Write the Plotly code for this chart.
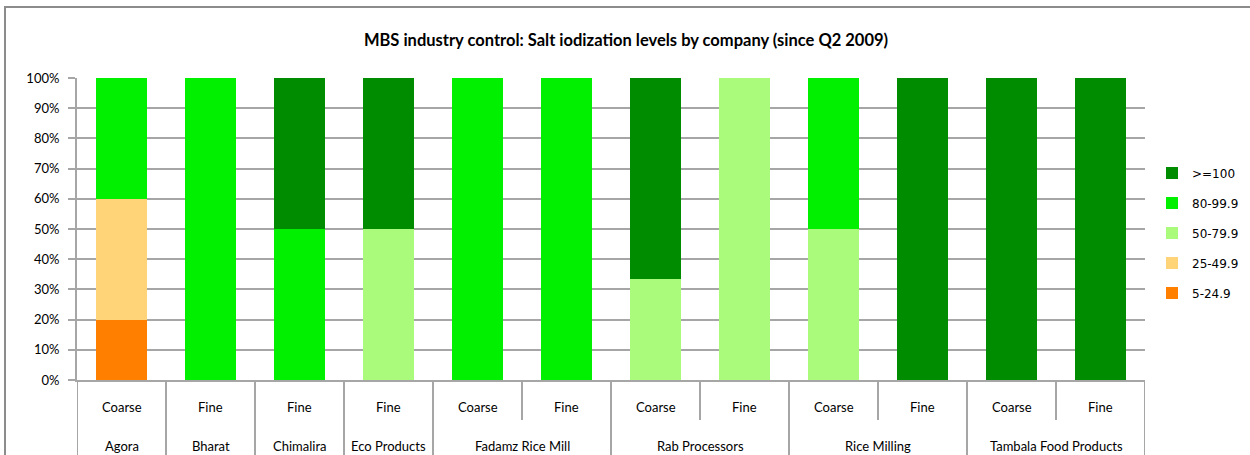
import plotly.graph_objects as go

companies = ["Agora", "Bharat", "Chimalira", "Eco Products", "Fadamz Rice Mill", "Fadamz Rice Mill",
             "Rab Processors", "Rab Processors", "Rice Milling", "Rice Milling",
             "Tambala Food Products", "Tambala Food Products"]
salt_types = ["Coarse", "Fine", "Fine", "Fine", "Coarse", "Fine",
              "Coarse", "Fine", "Coarse", "Fine", "Coarse", "Fine"]

level_5_24 = [20, 0, 0, 0, 0, 0, 0, 0, 0, 0, 0, 0]
level_25_49 = [40, 0, 0, 0, 0, 0, 0, 0, 0, 0, 0, 0]
level_50_79 = [0, 0, 0, 50, 0, 0, 33.3, 100, 50, 0, 0, 0]
level_80_99 = [40, 100, 50, 0, 100, 100, 0, 0, 50, 0, 0, 0]
level_100 = [0, 0, 50, 50, 0, 0, 66.7, 0, 0, 100, 100, 100]

series_names = ["5-24.9", "25-49.9", "50-79.9", "80-99.9", ">=100"]
series_values = [level_5_24, level_25_49, level_50_79, level_80_99, level_100]
series_colors = ["#FF7F00", "#FFD378", "#AAFA7C", "#00F000", "#008C00"]

W, H = 1250, 455
ML, MR, MT, MB = 77, 105, 78, 75
PW, PH = W - ML - MR, H - MT - MB

positions = list(range(len(companies)))

fig = go.Figure()
n_series = len(series_names)
for k, (name, vals, col) in enumerate(zip(series_names, series_values, series_colors)):
    fig.add_trace(go.Bar(x=positions, y=vals, name=name,
                         marker=dict(color=col, line=dict(width=0)),
                         legendgroup=name, legendrank=n_series - k))

grid = "#A6A6A6"
label_font = "Lato, Carlito, Calibri, sans-serif"

def py(px_y):
    """pixel y (from top of figure) -> paper y"""
    return (H - MB - px_y) / PH

fig.update_layout(
    width=W, height=H,
    margin=dict(l=ML, r=MR, t=MT, b=MB, autoexpand=False),
    barmode="stack", bargap=0.43,
    plot_bgcolor="white", paper_bgcolor="white",
    title=dict(text="<b>MBS industry control: Salt iodization levels by company (since Q2 2009)</b>",
               x=(626 - ML) / PW, xref="paper", xanchor="center",
               y=1 - 40 / H, yanchor="middle",
               font=dict(family=label_font, size=16.5, color="black")),
    legend=dict(x=(1152 - ML) / PW, xanchor="left", y=py(233), yanchor="middle",
                traceorder="grouped", tracegroupgap=11,
                font=dict(family="DejaVu Sans, Verdana, sans-serif", size=12, color="black"),
                itemwidth=30),
    showlegend=True,
)

fig.update_yaxes(range=[0, 100], dtick=10, ticksuffix="%", showgrid=True, gridcolor=grid, gridwidth=2,
                 showline=True, linecolor=grid, linewidth=2, ticks="outside", ticklen=7, tickcolor=grid,
                 tickwidth=2, zeroline=False, automargin=False, ticklabelstandoff=6,
                 tickfont=dict(family=label_font, size=13, color="black"))
fig.update_xaxes(range=[-0.5, len(companies) - 0.5], showline=True, linecolor=grid, linewidth=2,
                 showticklabels=False, ticks="", showgrid=False, zeroline=False, automargin=False)

# category labels (inner row: salt type, outer row: company)
for i, t in zip(positions, salt_types):
    fig.add_annotation(x=i, y=py(407), xref="x", yref="paper", text=t, showarrow=False,
                       xanchor="center", yanchor="middle",
                       font=dict(family=label_font, size=13, color="black"))

groups = []
for i, c in zip(positions, companies):
    if groups and groups[-1][0] == c:
        groups[-1][2] = i
    else:
        groups.append([c, i, i])

for c, a, b in groups:
    fig.add_annotation(x=(a + b) / 2, y=py(446), xref="x", yref="paper", text=c, showarrow=False,
                       xanchor="center", yanchor="middle",
                       font=dict(family=label_font, size=13, color="black"))

# dividers
outer_bounds = [a - 0.5 for c, a, b in groups] + [groups[-1][2] + 0.5]
for i in range(len(companies) + 1):
    bx = i - 0.5
    y_end = py(H + 5) if bx in outer_bounds else py(420)
    fig.add_shape(type="line", xref="x", yref="paper", x0=bx, x1=bx, y0=0, y1=y_end,
                  line=dict(color=grid, width=2))

# outer chart border
fig.add_shape(type="rect", xref="paper", yref="paper",
              x0=(5 - ML) / PW, x1=(W + 5 - ML) / PW,
              y0=py(H + 5), y1=py(7),
              line=dict(color="#8C8C8C", width=2), fillcolor="rgba(0,0,0,0)", layer="below")

fig.write_html("out.html", config={"displayModeBar": False},
               post_script="document.body.style.margin='0';document.body.style.overflow='hidden';")
